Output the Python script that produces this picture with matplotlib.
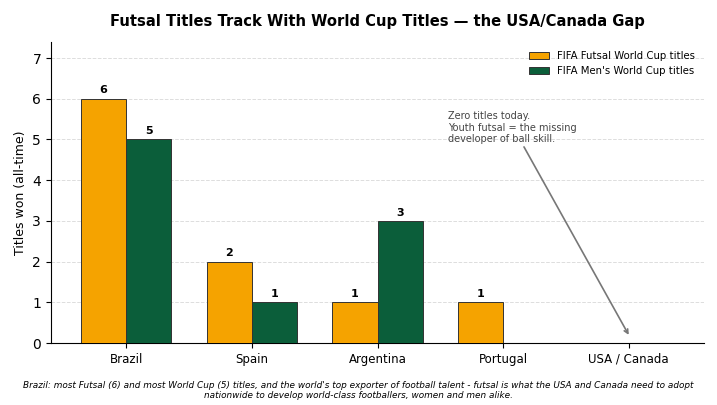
import matplotlib
matplotlib.use("Agg")
import matplotlib.pyplot as plt
import numpy as np

countries = ["Brazil", "Spain", "Argentina", "Portugal", "USA / Canada"]
futsal_titles = [6, 2, 1, 1, 0]
world_cup_titles = [5, 1, 3, 0, 0]

futsal_color = "#F5A300"
wc_color = "#0B5E3A"


def label_bars(ax, bars, values):
    for bar, v in zip(bars, values):
        if v > 0:
            ax.text(bar.get_x() + bar.get_width() / 2, v + 0.08, str(v),
                    ha="center", va="bottom", fontsize=8, fontweight="bold")


def main():
    fig, ax = plt.subplots(figsize=(7.17, 4.05), dpi=100)
    x = np.arange(len(countries))
    width = 0.36

    b1 = ax.bar(x - width / 2, futsal_titles, width, color=futsal_color,
                edgecolor="#333333", linewidth=0.7,
                label="FIFA Futsal World Cup titles", zorder=3)
    b2 = ax.bar(x + width / 2, world_cup_titles, width, color=wc_color,
                edgecolor="#333333", linewidth=0.7,
                label="FIFA Men's World Cup titles", zorder=3)
    label_bars(ax, b1, futsal_titles)
    label_bars(ax, b2, world_cup_titles)

    ax.set_xticks(x)
    ax.set_xticklabels(countries, fontsize=8.5)
    ax.set_xlim(-0.6, 4.6)
    ax.set_ylim(0, 7.4)
    ax.set_yticks(range(0, 8))
    ax.tick_params(axis="y", labelsize=10)
    ax.set_ylabel("Titles won (all-time)", fontsize=9)
    ax.set_title("Futsal Titles Track With World Cup Titles \u2014 the USA/Canada Gap",
                 fontsize=10.6, fontweight="bold", pad=11)
    ax.grid(axis="y", linestyle="--", color="#dddddd", linewidth=0.7, zorder=0)
    ax.spines["top"].set_visible(False)
    ax.spines["right"].set_visible(False)

    ax.legend(loc="upper right", fontsize=7.3, frameon=False)

    ax.annotate("Zero titles today.\nYouth futsal = the missing\ndeveloper of ball skill.",
                xy=(4, 0.2), xytext=(2.56, 5.7),
                fontsize=7, color="#444444", va="top", ha="left",
                arrowprops=dict(arrowstyle="->", color="#777777", lw=1.2,
                                shrinkA=0, shrinkB=0,
                                relpos=(0.58, 0.0)))

    fig.text(0.5, 0.012,
             "Brazil: most Futsal (6) and most World Cup (5) titles, and the world's top exporter of football talent - "
             "futsal is what the USA and Canada need to adopt\nnationwide to develop world-class footballers, women and men alike.",
             ha="center", va="bottom", fontsize=6.4, style="italic")

    fig.subplots_adjust(left=0.071, right=0.982, top=0.897, bottom=0.153)
    fig.savefig("out.png", dpi=100)


if __name__ == "__main__":
    main()
